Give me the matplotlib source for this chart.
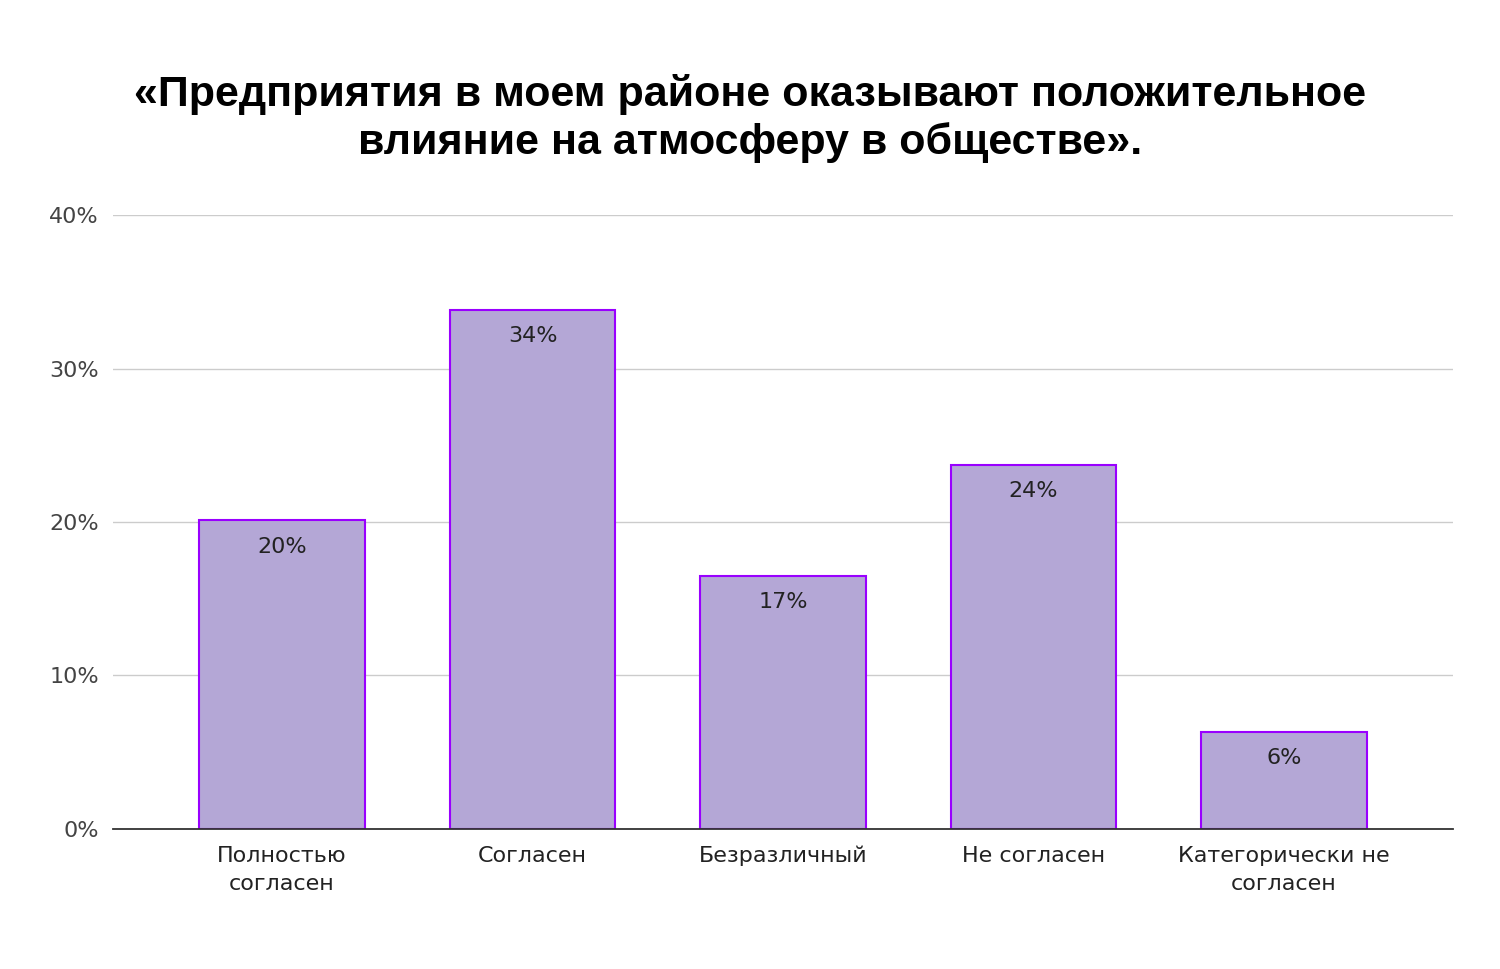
import matplotlib.pyplot as plt
import numpy as np

plt.rcParams['font.family'] = ['DejaVu Sans']

# Data
categories = ['Полностью\nсогласен', 'Согласен', 'Безразличный', 'Не согласен', 'Категорически не\nсогласен']
values = [20.1, 33.8, 16.5, 23.7, 6.3]
labels = ['20%', '34%', '17%', '24%', '6%']
yticks = [0, 10, 20, 30, 40]
title_lines = ['«Предприятия в моем районе оказывают положительное',
               'влияние на атмосферу в обществе».']

fig = plt.figure(figsize=(15, 9.69), dpi=100)
ax = fig.add_axes([0.0753, 0.1445, 0.8934, 0.6336])

x = np.arange(len(categories))
ax.bar(x, values, width=0.66, color='#b4a7d6', edgecolor='#9900ff', linewidth=1.5, zorder=3)

for xi, v, lab in zip(x, values, labels):
    ax.text(xi, v - 1.05, lab, ha='center', va='top', fontsize=16, color='#222222', zorder=4)

ax.set_xlim(-0.675, len(categories) - 1 + 0.675)
ax.set_ylim(0, 40)
ax.set_yticks(yticks)
ax.set_yticklabels([f'{t}%' for t in yticks], fontsize=16, color='#444444')
ax.set_xticks(x)
ax.set_xticklabels(categories, fontsize=16, color='#222222', linespacing=1.55)
ax.tick_params(axis='x', length=0, pad=12)
ax.tick_params(axis='y', length=0, pad=10)

ax.grid(axis='y', color='#cccccc', linewidth=1, zorder=0)
for s in ['top', 'right', 'left']:
    ax.spines[s].set_visible(False)
ax.spines['bottom'].set_color('#333333')
ax.spines['bottom'].set_linewidth(1.3)
ax.spines['bottom'].set_zorder(5)

# title, two centred lines
fig.text(0.5, 1 - 106 / 969, title_lines[0], ha='center', va='baseline',
         fontsize=31, fontweight='bold', color='#000000', family='Liberation Sans')
fig.text(0.5, 1 - 154 / 969, title_lines[1], ha='center', va='baseline',
         fontsize=31, fontweight='bold', color='#000000', family='Liberation Sans')

fig.savefig('out.png', dpi=100, facecolor='white')
